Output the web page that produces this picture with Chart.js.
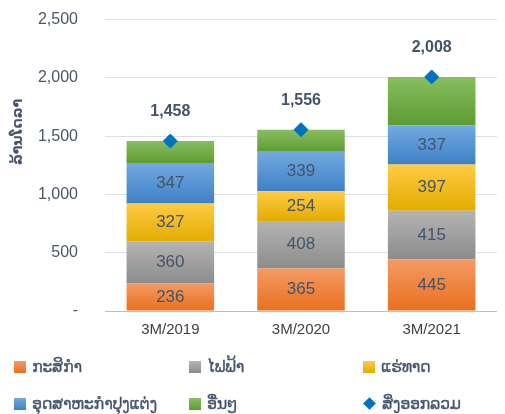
<!DOCTYPE html>
<html>
<head>
<meta charset="utf-8">
<script src="https://cdn.jsdelivr.net/npm/chart.js@4/dist/chart.umd.min.js"></script>
<style>
  html, body { margin: 0; padding: 0; background: #fff; width: 505px; height: 414px; overflow: hidden; }
  #wrap { position: relative; width: 505px; height: 414px; overflow: hidden; }
  #box { position: absolute; left: 0; top: -17px; width: 505px; height: 368px; }
  #legend { position: absolute; left: 14px; top: 348px; display: grid;
            grid-template-columns: 175px 174px 130px; grid-auto-rows: 37px;
            font-family: "DejaVu Sans", "Liberation Sans", sans-serif; font-size: 16px;
            letter-spacing: -0.4px; -webkit-text-stroke: 0.3px #44546A; color: #44546A; }
  .item { display: flex; align-items: center; white-space: nowrap; }
  .sw { width: 12px; height: 12px; margin-right: 6px; flex: none; }
  .dia { width: 9px; height: 9px; margin: 0 8px 0 2px; transform: rotate(45deg); background: #0070C0; flex: none; }
</style>
</head>
<body>
<div id="wrap">
  <div id="box"><canvas id="exportChart"></canvas></div>
  <div id="legend"></div>
</div>
<script>
// data (million USD)
const categories = ['3M/2019', '3M/2020', '3M/2021'];
const seriesNames = ['ກະສິກຳ', 'ໄຟຟ້າ', 'ແຮ່ທາດ', 'ອຸດສາຫະກຳປຸງແຕ່ງ', 'ອື່ນໆ'];
const agriculture = [236, 365, 445];
const electricity = [360, 408, 415];
const minerals = [327, 254, 397];
const manufacturing = [347, 339, 337];
const others = [188, 190, 414];
const totalExports = [1458, 1556, 2008];
const totalName = 'ສິ່ງອອກລວມ';
const yTitle = 'ລ້ານໂດລາ';

// top / bottom of each bar gradient
const fills = [
  ['#F59A63', '#E8701F'],
  ['#B4B4B4', '#8C8C8C'],
  ['#FFCB45', '#E2AC00'],
  ['#72AAE0', '#3F80C6'],
  ['#88BE60', '#5D9C32']
];
const seriesData = [agriculture, electricity, minerals, manufacturing, others];

function gradFill(top, bottom) {
  return function(c) {
    const chart = c.chart;
    if (!chart.chartArea || c.type !== 'data') return bottom;
    const y = chart.scales.y;
    let base = 0;
    for (let k = 0; k < c.datasetIndex; k++) base += chart.data.datasets[k].data[c.dataIndex];
    const g = chart.ctx.createLinearGradient(0, y.getPixelForValue(base + c.raw), 0, y.getPixelForValue(base));
    g.addColorStop(0, top);
    g.addColorStop(1, bottom);
    return g;
  };
}

const datasets = seriesData.map((d, i) => ({
  type: 'bar',
  label: seriesNames[i],
  data: d,
  backgroundColor: gradFill(fills[i][0], fills[i][1]),
  barPercentage: 0.67,
  categoryPercentage: 1,
  order: 2
}));
datasets.push({
  type: 'line',
  label: totalName,
  data: totalExports,
  showLine: false,
  pointStyle: 'rectRot',
  pointRadius: 7,
  pointBackgroundColor: '#0070C0',
  pointBorderColor: '#0070C0',
  order: 1
});

// value labels + rotated y title (canvas is shifted up 17px)
const labelPlugin = {
  id: 'labels',
  afterDatasetsDraw(chart) {
    const ctx = chart.ctx;
    ctx.save();
    ctx.textAlign = 'center';
    ctx.textBaseline = 'middle';
    for (let i = 0; i < 4; i++) {
      chart.getDatasetMeta(i).data.forEach((el, j) => {
        ctx.fillStyle = '#44546A';
        ctx.font = '17px "Liberation Sans", Arial, sans-serif';
        ctx.fillText(seriesData[i][j], el.x, (el.y + el.base) / 2);
      });
    }
    chart.getDatasetMeta(5).data.forEach((el, j) => {
      ctx.fillStyle = '#44546A';
      ctx.font = 'bold 16px "Liberation Sans", Arial, sans-serif';
      ctx.fillText(totalExports[j].toLocaleString('en-US'), el.x, el.y - 29);
    });
    ctx.translate(18, 132 + 17);
    ctx.rotate(-Math.PI / 2);
    ctx.font = 'bold 14px "DejaVu Sans", sans-serif';
    ctx.fillText(yTitle, 0, 0);
    ctx.restore();
  }
};

new Chart(document.getElementById('exportChart'), {
  data: { labels: categories, datasets: datasets },
  plugins: [labelPlugin],
  options: {
    responsive: true,
    maintainAspectRatio: false,
    animation: false,
    layout: { padding: { top: 0, right: 0, bottom: 2, left: 0 } },
    plugins: { legend: { display: false }, tooltip: { enabled: false } },
    scales: {
      x: {
        stacked: true,
        grid: { display: false, drawTicks: false },
        border: { display: false },
        ticks: { color: '#404040', padding: 10, font: { size: 15, family: '"Liberation Sans", Arial, sans-serif' } }
      },
      y: {
        stacked: true,
        min: 0,
        max: 2500,
        afterFit(scale) { scale.width = 105; },
        grid: { color: c => c.index === 0 ? '#BFBFBF' : '#DDE1E6', drawTicks: false },
        border: { display: false },
        ticks: {
          stepSize: 500,
          padding: 27,
          color: '#4A5568',
          font: { size: 16, family: '"Liberation Sans", Arial, sans-serif' },
          callback: v => v === 0 ? '-' : v.toLocaleString('en-US')
        }
      }
    }
  }
});

// legend in three columns like the original
const legend = document.getElementById('legend');
[0, 1, 2, 3, 4, 5].forEach(i => {
  const item = document.createElement('div');
  item.className = 'item';
  const mark = document.createElement('span');
  if (i < 5) {
    mark.className = 'sw';
    mark.style.background = 'linear-gradient(' + fills[i][0] + ',' + fills[i][1] + ')';
  } else {
    mark.className = 'dia';
  }
  item.appendChild(mark);
  item.appendChild(document.createTextNode(i < 5 ? seriesNames[i] : totalName));
  legend.appendChild(item);
});
</script>
</body>
</html>
